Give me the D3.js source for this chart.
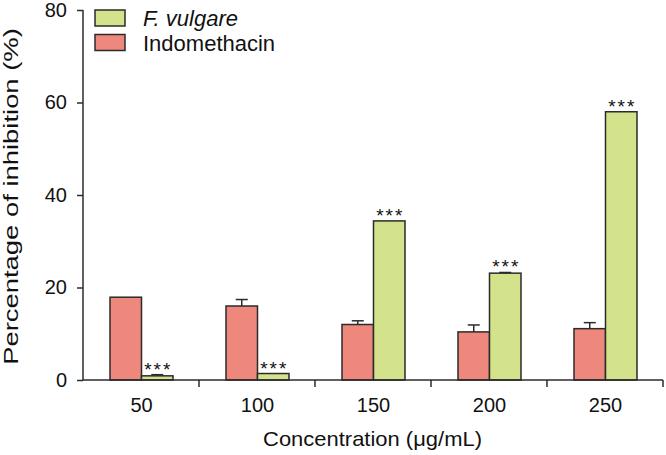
<!DOCTYPE html>
<html>
<head>
<meta charset="utf-8">
<script src="https://cdn.jsdelivr.net/npm/d3@7"></script>
<style>
  html, body { margin: 0; padding: 0; background: #fff; }
  svg { display: block; font-family: "Liberation Sans", Arial, Helvetica, sans-serif; }
</style>
</head>
<body>
<svg id="chart" width="666" height="455"></svg>
<script>
// ---- data ----
const categories = ["50", "100", "150", "200", "250"];
const seriesNames = ["Indomethacin", "F. vulgare"];
const indomethacin = [17.9, 16.0, 12.0, 10.4, 11.1];
const indomethacinErr = [0, 1.4, 0.8, 1.5, 1.3];
const fvulgare = [0.9, 1.4, 34.4, 23.1, 58.0];
const fvulgareErr = [0.25, 0, 0, 0.15, 0];
const significance = ["***", "***", "***", "***", "***"];
const yTicks = [0, 20, 40, 60, 80];
const xTitle = "Concentration (\u03bcg/mL)";
const yTitle = "Percentage of inhibition (%)";

// ---- layout ----
const colors = { "Indomethacin": "#ee877c", "F. vulgare": "#d3e38b" };
const stroke = "#2b2b2b";
const svg = d3.select("#chart");

const x0 = d3.scaleBand().domain(categories).range([83, 663]).paddingInner(0).paddingOuter(0);
const x1 = d3.scaleBand().domain(seriesNames).range([27, 90]).padding(0);
const y = d3.scaleLinear().domain([0, 80]).range([380, 10]);

const rows = categories.map((c, i) => ({
  cat: c,
  bars: [
    { s: "Indomethacin", v: indomethacin[i], e: indomethacinErr[i] },
    { s: "F. vulgare", v: fvulgare[i], e: fvulgareErr[i] }
  ],
  sig: significance[i]
}));

const g = svg.append("g");

const groups = g.selectAll("g.cat").data(rows).join("g")
  .attr("class", "cat")
  .attr("transform", d => `translate(${x0(d.cat)},0)`);

// error bars (upper only)
groups.selectAll("g.err").data(d => d.bars.filter(b => b.e > 0)).join("g")
  .attr("class", "err")
  .each(function(b) {
    const cx = x1(b.s) + x1.bandwidth() / 2;
    const sel = d3.select(this);
    sel.append("line").attr("x1", cx).attr("x2", cx)
      .attr("y1", y(b.v)).attr("y2", y(b.v + b.e))
      .attr("stroke", stroke).attr("stroke-width", 1.5);
    sel.append("line").attr("x1", cx - 6).attr("x2", cx + 6)
      .attr("y1", y(b.v + b.e)).attr("y2", y(b.v + b.e))
      .attr("stroke", stroke).attr("stroke-width", 1.5);
  });

groups.selectAll("rect").data(d => d.bars).join("rect")
  .attr("x", b => x1(b.s))
  .attr("width", x1.bandwidth())
  .attr("y", b => y(b.v))
  .attr("height", b => y(0) - y(b.v))
  .attr("fill", b => colors[b.s])
  .attr("stroke", stroke)
  .attr("stroke-width", 1.5);

// significance stars
groups.append("text")
  .attr("x", x1("F. vulgare") + x1.bandwidth() / 2 + 1)
  .attr("y", d => y(d.bars[1].v + d.bars[1].e) + 1)
  .attr("text-anchor", "middle")
  .attr("font-size", 19)
  .attr("letter-spacing", 2)
  .attr("fill", "#111")
  .text(d => d.sig);

// y axis
const yAxis = d3.axisLeft(y).tickValues(yTicks).tickSize(6).tickPadding(10);
const ya = svg.append("g").attr("transform", "translate(83,0)").call(yAxis);
ya.select(".domain").attr("stroke", stroke).attr("stroke-width", 1.5).attr("d", `M0,${y(80)}V${y(0)}`);
ya.selectAll(".tick line").attr("stroke", stroke).attr("stroke-width", 1.5);
ya.selectAll(".tick text").attr("font-size", 20).attr("fill", "#111").attr("font-family", null);

// x axis: line with ticks at category boundaries
const xa = svg.append("g").attr("transform", `translate(0,${y(0)})`);
xa.append("line").attr("x1", 83).attr("x2", 663).attr("y1", 0).attr("y2", 0)
  .attr("stroke", stroke).attr("stroke-width", 1.5);
xa.selectAll("line.tk").data(categories).join("line").attr("class", "tk")
  .attr("x1", c => x0(c) + x0.bandwidth()).attr("x2", c => x0(c) + x0.bandwidth())
  .attr("y1", 0).attr("y2", 7)
  .attr("stroke", stroke).attr("stroke-width", 1.5);
xa.selectAll("text").data(categories).join("text")
  .attr("x", c => x0(c) + x1.range()[0] + (x1.range()[1] - x1.range()[0]) / 2)
  .attr("y", 32)
  .attr("text-anchor", "middle")
  .attr("font-size", 20)
  .attr("fill", "#111")
  .text(c => c);

// axis titles (glyphs stretched along the text direction, as in the reference)
const xt = svg.append("text")
  .attr("text-anchor", "middle")
  .attr("font-size", 20)
  .attr("fill", "#111")
  .text(xTitle);
const xw = xt.node().getComputedTextLength();
xt.attr("transform", `translate(372.5,446) scale(${219 / xw},1)`);

const yt = svg.append("text")
  .attr("text-anchor", "middle")
  .attr("font-size", 21)
  .attr("fill", "#111")
  .text(yTitle);
const yw = yt.node().getComputedTextLength();
yt.attr("transform", `translate(18,196.5) rotate(-90) scale(${337 / yw},1)`);

// legend
const legendItems = ["F. vulgare", "Indomethacin"];
const lg = svg.append("g").attr("transform", "translate(95,10)");
const li = lg.selectAll("g").data(legendItems).join("g")
  .attr("transform", (d, i) => `translate(0,${i * 24.5})`);
li.append("rect").attr("width", 30).attr("height", 16)
  .attr("fill", d => colors[d]).attr("stroke", stroke).attr("stroke-width", 1.5);
li.append("text").attr("x", 48).attr("y", 16)
  .attr("font-size", 22).attr("fill", "#111")
  .attr("font-style", d => d === "F. vulgare" ? "italic" : "normal")
  .text(d => d);
</script>
</body>
</html>
